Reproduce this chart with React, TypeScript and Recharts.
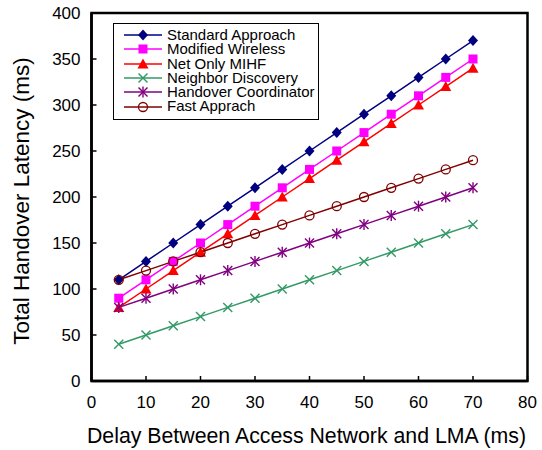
import React from 'react';
import { LineChart, Line, XAxis, YAxis, Legend, ReferenceArea, Label } from 'recharts';

// delay between access network and LMA (ms)
const delays = [5, 10, 15, 20, 25, 30, 35, 40, 45, 50, 55, 60, 65, 70];

const standardApproach = [110, 130, 150, 170, 190, 210, 230, 250, 270, 290, 310, 330, 350, 370];
const modifiedWireless = [90, 110, 130, 150, 170, 190, 210, 230, 250, 270, 290, 310, 330, 350];
const netOnlyMihf = [80, 100, 120, 140, 160, 180, 200, 220, 240, 260, 280, 300, 320, 340];
const neighborDiscovery = [40, 50, 60, 70, 80, 90, 100, 110, 120, 130, 140, 150, 160, 170];
const handoverCoordinator = [80, 90, 100, 110, 120, 130, 140, 150, 160, 170, 180, 190, 200, 210];
const fastApprach = [110, 120, 130, 140, 150, 160, 170, 180, 190, 200, 210, 220, 230, 240];

const xTicks = [0, 10, 20, 30, 40, 50, 60, 70, 80];
const yTicks = [0, 50, 100, 150, 200, 250, 300, 350, 400];

const data = delays.map((d, i) => ({
  delay: d,
  standard: standardApproach[i],
  modified: modifiedWireless[i],
  netOnly: netOnlyMihf[i],
  neighbor: neighborDiscovery[i],
  coordinator: handoverCoordinator[i],
  fast: fastApprach[i],
}));

const FONT = 'Arial, "Liberation Sans", sans-serif';

type MarkerKind = 'diamond' | 'square' | 'triangle' | 'cross' | 'star' | 'circle';

const marker = (kind: MarkerKind, cx: number, cy: number, color: string, key?: string | number) => {
  switch (kind) {
    case 'diamond':
      return <polygon key={key} points={`${cx},${cy - 5.5} ${cx + 5},${cy} ${cx},${cy + 5.5} ${cx - 5},${cy}`} fill={color} />;
    case 'square':
      return <rect key={key} x={cx - 4.5} y={cy - 4.5} width={9} height={9} fill={color} />;
    case 'triangle':
      return <polygon key={key} points={`${cx},${cy - 5.5} ${cx + 5.5},${cy + 4.5} ${cx - 5.5},${cy + 4.5}`} fill={color} />;
    case 'cross':
      return (
        <g key={key} stroke={color} strokeWidth={1.4}>
          <line x1={cx - 4.5} y1={cy - 4.5} x2={cx + 4.5} y2={cy + 4.5} />
          <line x1={cx - 4.5} y1={cy + 4.5} x2={cx + 4.5} y2={cy - 4.5} />
        </g>
      );
    case 'star':
      return (
        <g key={key} stroke={color} strokeWidth={1.4}>
          <line x1={cx - 4.5} y1={cy - 4.5} x2={cx + 4.5} y2={cy + 4.5} />
          <line x1={cx - 4.5} y1={cy + 4.5} x2={cx + 4.5} y2={cy - 4.5} />
          <line x1={cx} y1={cy - 5.5} x2={cx} y2={cy + 5.5} />
        </g>
      );
    default:
      return <circle key={key} cx={cx} cy={cy} r={4.5} fill="none" stroke={color} strokeWidth={1.3} />;
  }
};

const series: { key: string; name: string; color: string; kind: MarkerKind }[] = [
  { key: 'standard', name: 'Standard Approach', color: '#000080', kind: 'diamond' },
  { key: 'modified', name: 'Modified Wireless', color: '#FF00FF', kind: 'square' },
  { key: 'netOnly', name: 'Net Only MIHF', color: '#FF0000', kind: 'triangle' },
  { key: 'neighbor', name: 'Neighbor Discovery', color: '#339966', kind: 'cross' },
  { key: 'coordinator', name: 'Handover Coordinator', color: '#800080', kind: 'star' },
  { key: 'fast', name: 'Fast Apprach', color: '#800000', kind: 'circle' },
];

const XTick = (props: any) => {
  const { x, y, payload } = props;
  return (
    <g>
      <line x1={x} y1={y} x2={x} y2={y - 5} stroke="#000" strokeWidth={1.5} />
      <text x={x} y={y + 26.5} textAnchor="middle" fontSize={17} fontFamily={FONT} fill="#000">
        {payload.value}
      </text>
    </g>
  );
};

const YTick = (props: any) => {
  const { x, y, payload } = props;
  return (
    <g>
      <line x1={x} y1={y} x2={x + 5} y2={y} stroke="#000" strokeWidth={1.5} />
      <text x={x - 11} y={y + 6} textAnchor="end" fontSize={17} fontFamily={FONT} fill="#000">
        {payload.value}
      </text>
    </g>
  );
};

const LegendBox = () => (
  <div
    style={{
      border: '1px solid #000',
      background: '#fff',
      padding: '4px 3px 5px 10px',
      fontFamily: FONT,
      fontSize: 15,
      lineHeight: '14.3px',
      color: '#000',
    }}
  >
    {series.map((s) => (
      <div key={s.key} style={{ display: 'flex', alignItems: 'center', height: 14.3, whiteSpace: 'nowrap' }}>
        <svg width={38} height={14} style={{ marginRight: 5, overflow: 'visible', flexShrink: 0 }}>
          <line x1={0} y1={7} x2={38} y2={7} stroke={s.color} strokeWidth={1.5} />
          {marker(s.kind, 19, 7, s.color)}
        </svg>
        <span>{s.name}</span>
      </div>
    ))}
  </div>
);

export default function App() {
  return (
    <div style={{ position: 'absolute', left: 0, top: 0, background: '#fff' }}>
      <LineChart width={542} height={450} data={data} margin={{ top: 13, right: 14.5, bottom: 0, left: 0 }}>
        <XAxis
          dataKey="delay"
          type="number"
          domain={[0, 80]}
          ticks={xTicks}
          height={69}
          tickSize={0}
          tickMargin={0}
          tick={<XTick />}
          axisLine={{ stroke: '#000', strokeWidth: 2.5 }}
        >
          <Label
            value="Delay Between Access Network and LMA (ms)"
            position="insideBottom"
            offset={7}
            dx={-3}
            style={{ fontSize: 21.3, fontFamily: FONT, fill: '#000' }}
          />
        </XAxis>
        <YAxis
          type="number"
          domain={[0, 400]}
          ticks={yTicks}
          width={91.5}
          tickSize={0}
          tickMargin={0}
          tick={<YTick />}
          axisLine={{ stroke: '#000', strokeWidth: 2.5 }}
        >
          <Label
            content={(props: any) => {
              const vb = props.viewBox;
              const cx = vb.x + 28.5;
              const cy = vb.y + vb.height / 2 + 4;
              return (
                <text
                  x={cx}
                  y={cy}
                  transform={`rotate(-90, ${cx}, ${cy})`}
                  textAnchor="middle"
                  fontSize={22.5}
                  fontFamily={FONT}
                  fill="#000"
                >
                  Total Handover Latency (ms)
                </text>
              );
            }}
          />
        </YAxis>
        <ReferenceArea x1={0} x2={80} y1={0} y2={400} fill="none" stroke="#000" strokeWidth={2.5} />
        {series.map((s) => (
          <Line
            key={s.key}
            dataKey={s.key}
            name={s.name}
            stroke={s.color}
            strokeWidth={1.5}
            isAnimationActive={false}
            type="linear"
            dot={(p: any) => marker(s.kind, p.cx, p.cy, s.color, `${s.key}-${p.index}`)}
          />
        ))}
        <Legend
          layout="vertical"
          align="center"
          verticalAlign="middle"
          content={<LegendBox />}
          wrapperStyle={{ left: 113, top: 23, width: 'auto', height: 'auto' }}
        />
      </LineChart>
    </div>
  );
}
